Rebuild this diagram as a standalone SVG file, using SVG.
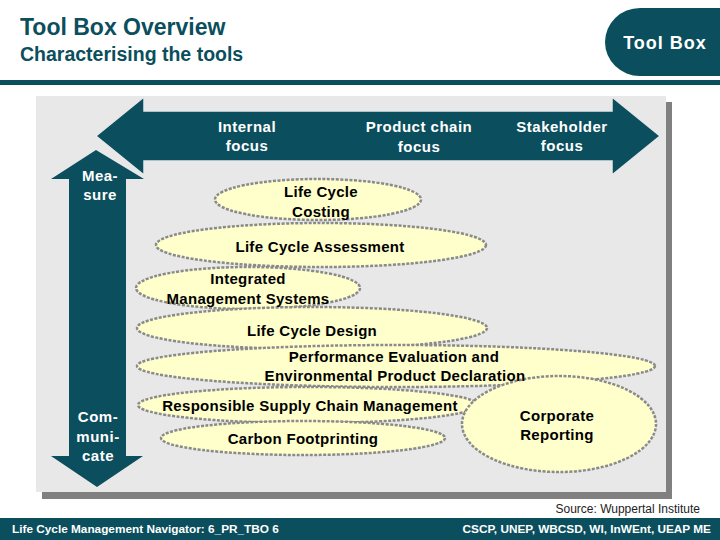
<svg xmlns="http://www.w3.org/2000/svg" width="720" height="540" viewBox="0 0 720 540">
<style>
.teal{fill:#0b4e5d}
.hdr{font-family:"Liberation Sans",Arial,sans-serif;font-weight:bold;fill:#0b4e5d}
.wl{font-family:"Liberation Sans",Arial,sans-serif;font-size:15px;font-weight:bold;letter-spacing:0.5px;fill:#ffffff;text-anchor:middle}
.el{fill:#ffffcc;stroke:#8a8a8a;stroke-width:2.5;stroke-dasharray:3 1.5}
.t{font-family:"Liberation Sans",Arial,sans-serif;font-size:15px;font-weight:bold;letter-spacing:0.3px;fill:#000000;text-anchor:middle}
.ft{font-family:"Liberation Sans",Arial,sans-serif;font-size:11.8px;font-weight:bold;fill:#ffffff}
</style>
<rect width="720" height="540" fill="#ffffff"/>
<g id="header">
<text class="hdr" x="20" y="35" font-size="23">Tool Box Overview</text>
<text class="hdr" x="20" y="61" font-size="19.5">Characterising the tools</text>
<path class="teal" d="M640,8 H720 V76 H640 A35,34 0 0 1 640,8 Z"/>
<text x="665" y="49" font-family="Liberation Sans,Arial,sans-serif" font-size="18" font-weight="bold" letter-spacing="1" fill="#ffffff" text-anchor="middle">Tool Box</text>
<rect class="teal" x="0" y="80" width="720" height="5"/>
</g>
<g id="panel">
<rect x="42" y="102" width="630" height="397" fill="#808080"/>
<rect x="36" y="96" width="630" height="396" fill="#e8e8e8"/>
</g>
<g id="arrows">
<polygon class="teal" points="96,150 144,179 126,179 126,456 143,456 97,487 51,456 69,456 69,179 51,179"/>
<polygon class="teal" points="96,136 144,97 144,111 612,111 612,97 660,136 612,175 612,161 144,161 144,175" stroke="#e8e8e8" stroke-width="1.5"/>
<text class="wl"><tspan x="247" y="132">Internal</tspan><tspan x="247" y="151">focus</tspan></text>
<text class="wl"><tspan x="419" y="132">Product chain</tspan><tspan x="419" y="152">focus</tspan></text>
<text class="wl"><tspan x="562" y="132">Stakeholder</tspan><tspan x="562" y="151">focus</tspan></text>
<text class="wl"><tspan x="100" y="181">Mea-</tspan><tspan x="100" y="200">sure</tspan></text>
<text class="wl"><tspan x="98" y="422">Com-</tspan><tspan x="98" y="442">muni-</tspan><tspan x="98" y="461">cate</tspan></text>
</g>
<g id="lcc"><ellipse class="el" cx="318" cy="199.5" rx="103" ry="20.5"/></g>
<g id="lca"><ellipse class="el" cx="321" cy="245" rx="165" ry="22"/></g>
<g id="ims"><ellipse class="el" cx="248" cy="288" rx="112" ry="21"/></g>
<g id="lcd"><ellipse class="el" cx="312" cy="328" rx="175" ry="21"/></g>
<g id="pe"><ellipse class="el" cx="396" cy="366" rx="259" ry="21"/></g>
<g id="rscm"><ellipse class="el" cx="308" cy="405" rx="170" ry="18"/></g>
<g id="cf"><ellipse class="el" cx="303" cy="438" rx="142" ry="17"/></g>
<g id="cr"><ellipse class="el" cx="559" cy="424" rx="97" ry="48"/></g>
<g id="labels">
<text class="t"><tspan x="321" y="197">Life Cycle</tspan><tspan x="321" y="217">Costing</tspan></text>
<text class="t" x="320" y="252">Life Cycle Assessment</text>
<text class="t"><tspan x="248" y="284">Integrated</tspan><tspan x="248" y="304">Management Systems</tspan></text>
<text class="t" x="312" y="336">Life Cycle Design</text>
<text class="t"><tspan x="394" y="362">Performance Evaluation and</tspan><tspan x="395" y="381">Environmental Product Declaration</tspan></text>
<text class="t" x="310" y="411">Responsible Supply Chain Management</text>
<text class="t" x="303" y="444">Carbon Footprinting</text>
<text class="t"><tspan x="557" y="421">Corporate</tspan><tspan x="557" y="440">Reporting</tspan></text>
</g>
<g id="footer">
<text x="700" y="513" font-family="Liberation Sans,Arial,sans-serif" font-size="12" fill="#222222" text-anchor="end">Source: Wuppertal Institute</text>
<rect class="teal" x="0" y="518" width="720" height="22"/>
<text class="ft" x="12" y="533">Life Cycle Management Navigator: 6_PR_TBO 6</text>
<text class="ft" x="711" y="533" text-anchor="end">CSCP, UNEP, WBCSD, WI, InWEnt, UEAP ME</text>
</g>
</svg>
